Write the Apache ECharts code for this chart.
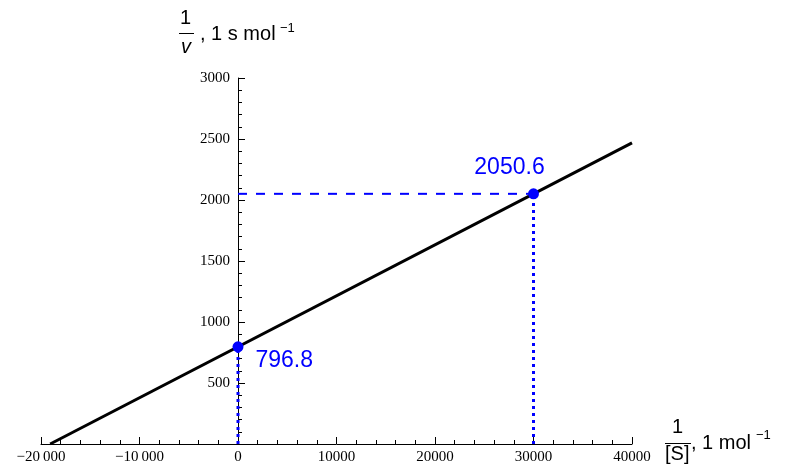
<!DOCTYPE html>
<html><head><meta charset="utf-8">
<script src="https://cdn.jsdelivr.net/npm/echarts@6/dist/echarts.min.js"></script>
<style>html,body{margin:0;padding:0;background:#fff}#c{width:788px;height:473px}</style>
</head><body><div id="c"></div>
<script>
// Data
const xTicks = [-20000, -10000, 0, 10000, 20000, 30000, 40000];
const xTickLabels = ['\u221220\u2009000', '\u221210\u2009000', '0', '10000', '20000', '30000', '40000'];
const yTicks = [0, 500, 1000, 1500, 2000, 2500, 3000];
const yTickLabels = ['', '500', '1000', '1500', '2000', '2500', '3000'];
const lineX = [-19070, 40000];
const lineY = [0, 2468];
const pointX = [0, 30000];
const pointY = [796.8, 2050.6];
const pointLabels = ['796.8', '2050.6'];

const blue = '#0000ff';
const tickFont = {fontFamily: 'Liberation Serif', fontSize: 15, color: '#000'};

const chart = echarts.init(document.getElementById('c'), null, {renderer: 'canvas'});
const option = {
  animation: false,
  backgroundColor: '#fff',
  grid: {left: 41, right: 156, top: 78, bottom: 29, containLabel: false},
  xAxis: {
    type: 'value', min: -20000, max: 40000, interval: 10000,
    splitLine: {show: false},
    axisLine: {show: true, onZero: true, lineStyle: {color: '#000', width: 1}},
    axisTick: {show: true, inside: true, length: 7, lineStyle: {color: '#000'}},
    minorTick: {show: true, splitNumber: 5, length: 4, lineStyle: {color: '#000'}},
    axisLabel: Object.assign({margin: 6, formatter: v => { const i = xTicks.indexOf(v); return i >= 0 ? xTickLabels[i] : ''; }}, tickFont)
  },
  yAxis: {
    type: 'value', min: 0, max: 3000, interval: 500,
    offset: -197,
    splitLine: {show: false},
    axisLine: {show: true, onZero: false, lineStyle: {color: '#000', width: 1}},
    axisTick: {show: true, inside: true, length: 7, lineStyle: {color: '#000'}},
    minorTick: {show: true, splitNumber: 5, length: 4, lineStyle: {color: '#000'}},
    axisLabel: Object.assign({margin: 8, formatter: v => { const i = yTicks.indexOf(v); return i >= 0 ? yTickLabels[i] : ''; }}, tickFont)
  },
  series: [
    {
      type: 'line', data: [[pointX[0], pointY[1]], [pointX[1], pointY[1]]],
      symbol: 'none', lineStyle: {color: blue, width: 2, type: [9, 9]}, z: 2
    },
    {
      type: 'line', data: [[pointX[1], 0], [pointX[1], pointY[1]]],
      symbol: 'none', lineStyle: {color: blue, width: 3, type: [3, 4]}, z: 2
    },
    {
      type: 'line', data: [[pointX[0], 0], [pointX[0], pointY[0]]],
      symbol: 'none', lineStyle: {color: blue, width: 3, type: [3, 4]}, z: 2
    },
    {
      type: 'line', data: lineX.map((x, i) => [x, lineY[i]]),
      symbol: 'none', lineStyle: {color: '#000', width: 3}, z: 3
    },
    {
      type: 'scatter', symbolSize: 11, itemStyle: {color: blue, opacity: 1}, z: 5,
      data: [
        {value: [pointX[0], pointY[0]], label: {show: true, formatter: pointLabels[0], position: 'right', distance: 12, offset: [0, 14]}},
        {value: [pointX[1], pointY[1]], label: {show: true, formatter: pointLabels[1], position: 'top', distance: 9, offset: [-24, 0]}}
      ],
      label: {color: blue, fontFamily: 'Liberation Sans', fontSize: 23, opacity: 1}
    }
  ],
  graphic: [
    // y-axis name: 1/v , 1 s mol^-1
    {type: 'text', left: 180, top: 8, style: {text: '1', font: '20px "Liberation Sans"', fill: '#000'}},
    {type: 'line', shape: {x1: 179, y1: 33.5, x2: 194, y2: 33.5}, style: {stroke: '#000', lineWidth: 1}},
    {type: 'text', left: 181, top: 37, style: {text: 'v', font: 'italic 20px "Liberation Sans"', fill: '#000'}},
    {type: 'text', left: 200, top: 24, style: {text: ', 1 s mol', font: '20px "Liberation Sans"', fill: '#000'}},
    {type: 'text', left: 280, top: 22, style: {text: '\u22121', font: '13px "Liberation Sans"', fill: '#000'}},
    // x-axis name: 1/[S] , 1 mol^-1
    {type: 'text', left: 672, top: 417, style: {text: '1', font: '20px "Liberation Sans"', fill: '#000'}},
    {type: 'line', shape: {x1: 665, y1: 443.5, x2: 691, y2: 443.5}, style: {stroke: '#000', lineWidth: 1}},
    {type: 'text', left: 665, top: 444, style: {text: '[S]', font: '20px "Liberation Sans"', fill: '#000'}},
    {type: 'text', left: 691, top: 433, style: {text: ', 1 mol', font: '20px "Liberation Sans"', fill: '#000'}},
    {type: 'text', left: 756, top: 429, style: {text: '\u22121', font: '13px "Liberation Sans"', fill: '#000'}}
  ]
};
chart.setOption(option);
</script>
</body></html>
